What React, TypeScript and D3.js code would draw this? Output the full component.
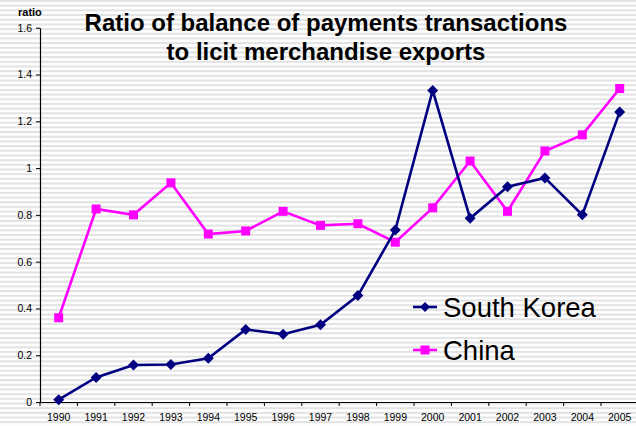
import React, { useEffect, useRef } from 'react'
import * as d3 from 'd3'

const years = ['1990', '1991', '1992', '1993', '1994', '1995', '1996', '1997', '1998', '1999', '2000', '2001', '2002', '2003', '2004', '2005']
const southKorea = [0.01, 0.105, 0.158, 0.16, 0.187, 0.31, 0.29, 0.33, 0.455, 0.735, 1.332, 0.785, 0.92, 0.958, 0.8, 1.24]
const china = [0.36, 0.825, 0.8, 0.937, 0.718, 0.731, 0.815, 0.755, 0.762, 0.683, 0.83, 1.03, 0.815, 1.073, 1.142, 1.34]
const yTicks = [0, 0.2, 0.4, 0.6, 0.8, 1, 1.2, 1.4, 1.6]

const width = 636
const height = 426
const font = 'Arial, "Liberation Sans", sans-serif'

const App = () => {
  const svgRef = useRef<SVGSVGElement>(null)

  useEffect(() => {
    const svg = d3.select(svgRef.current)
    svg.selectAll('*').remove()

    const left = 40
    const bottom = 402
    const x = d3
      .scaleBand()
      .domain(years)
      .range([left, left + 16 * 37.4])
    const y = d3.scaleLinear().domain([0, 1.6]).range([bottom, 27.7])

    // striped background
    const defs = svg.append('defs')
    const pat = defs
      .append('pattern')
      .attr('id', 'stripes')
      .attr('patternUnits', 'userSpaceOnUse')
      .attr('width', 10)
      .attr('height', 4.68)
    pat.append('rect').attr('width', 10).attr('height', 4.68).attr('fill', '#ffffff')
    pat.append('rect').attr('y', 0).attr('width', 10).attr('height', 2).attr('fill', '#e2e2e2')
    svg.append('rect').attr('width', width).attr('height', height).attr('fill', 'url(#stripes)')

    // axes
    const yAxis = svg
      .append('g')
      .attr('transform', `translate(${left},0)`)
      .call(
        d3
          .axisLeft(y)
          .tickValues(yTicks)
          .tickSize(4)
          .tickSizeOuter(0)
          .tickFormat((d) => String(d))
      )
    yAxis.select('path.domain').attr('stroke', '#000').attr('stroke-width', 1.2)
    yAxis.selectAll('.tick line').attr('stroke', '#000')
    yAxis
      .selectAll('.tick text')
      .attr('x', -8)
      .style('font-family', font)
      .style('font-size', '10.5px')
      .attr('fill', '#000')

    const xAxis = svg
      .append('g')
      .attr('transform', `translate(0,${bottom})`)
      .call(d3.axisBottom(x).tickSize(0).tickSizeOuter(0))
    xAxis.select('path.domain').attr('stroke', '#000').attr('stroke-width', 1.2)
    xAxis
      .selectAll('.tick text')
      .attr('y', 12)
      .style('font-family', font)
      .style('font-size', '10.5px')
      .attr('fill', '#000')

    // category boundary ticks
    svg
      .append('g')
      .selectAll('line')
      .data(years)
      .join('line')
      .attr('x1', (d) => x(d)!)
      .attr('x2', (d) => x(d)!)
      .attr('y1', bottom)
      .attr('y2', bottom + 4)
      .attr('stroke', '#000')

    const cx = (i: number) => x(years[i])! + x.bandwidth() / 2
    const line = d3
      .line<number>()
      .x((d, i) => cx(i))
      .y((d) => y(d))

    // China
    svg
      .append('path')
      .datum(china)
      .attr('d', line)
      .attr('fill', 'none')
      .attr('stroke', '#ff00ff')
      .attr('stroke-width', 2.6)
    svg
      .append('g')
      .selectAll('rect')
      .data(china)
      .join('rect')
      .attr('x', (d, i) => cx(i) - 4.5)
      .attr('y', (d) => y(d) - 4.5)
      .attr('width', 9)
      .attr('height', 9)
      .attr('fill', '#ff00ff')

    // South Korea
    svg
      .append('path')
      .datum(southKorea)
      .attr('d', line)
      .attr('fill', 'none')
      .attr('stroke', '#000080')
      .attr('stroke-width', 2.6)
    const diamond = (px: number, py: number, r: number) =>
      `M${px},${py - r}L${px + r},${py}L${px},${py + r}L${px - r},${py}Z`
    svg
      .append('g')
      .selectAll('path')
      .data(southKorea)
      .join('path')
      .attr('d', (d, i) => diamond(cx(i), y(d), 5.5))
      .attr('fill', '#000080')

    // title
    const title = svg
      .append('text')
      .attr('text-anchor', 'middle')
      .style('font-family', font)
      .style('font-size', '24px')
      .style('font-weight', 'bold')
      .attr('fill', '#000')
    title.append('tspan').attr('x', 326).attr('y', 31).text('Ratio of balance of payments transactions')
    title.append('tspan').attr('x', 326).attr('y', 60).text('to licit merchandise exports')

    svg
      .append('text')
      .attr('x', 18)
      .attr('y', 16)
      .style('font-family', font)
      .style('font-size', '11px')
      .style('font-weight', 'bold')
      .text('ratio')

    // legend
    const legend = [
      { name: 'South Korea', color: '#000080', shape: 'diamond', y: 307 },
      { name: 'China', color: '#ff00ff', shape: 'square', y: 350 },
    ]
    const lg = svg.append('g')
    legend.forEach((l) => {
      lg.append('line')
        .attr('x1', 413)
        .attr('x2', 437)
        .attr('y1', l.y)
        .attr('y2', l.y)
        .attr('stroke', l.color)
        .attr('stroke-width', 2.6)
      if (l.shape === 'diamond') {
        lg.append('path').attr('d', diamond(425, l.y, 5)).attr('fill', l.color)
      } else {
        lg.append('rect')
          .attr('x', 420.5)
          .attr('y', l.y - 4.5)
          .attr('width', 9)
          .attr('height', 9)
          .attr('fill', l.color)
      }
      lg.append('text')
        .attr('x', 443)
        .attr('y', l.y + 10)
        .style('font-family', font)
        .style('font-size', '27.5px')
        .attr('fill', '#000')
        .text(l.name)
    })
  }, [])

  return (
    <svg
      ref={svgRef}
      width={width}
      height={height}
      style={{ position: 'absolute', left: 0, top: 0, display: 'block' }}
    ></svg>
  )
}

export default App
